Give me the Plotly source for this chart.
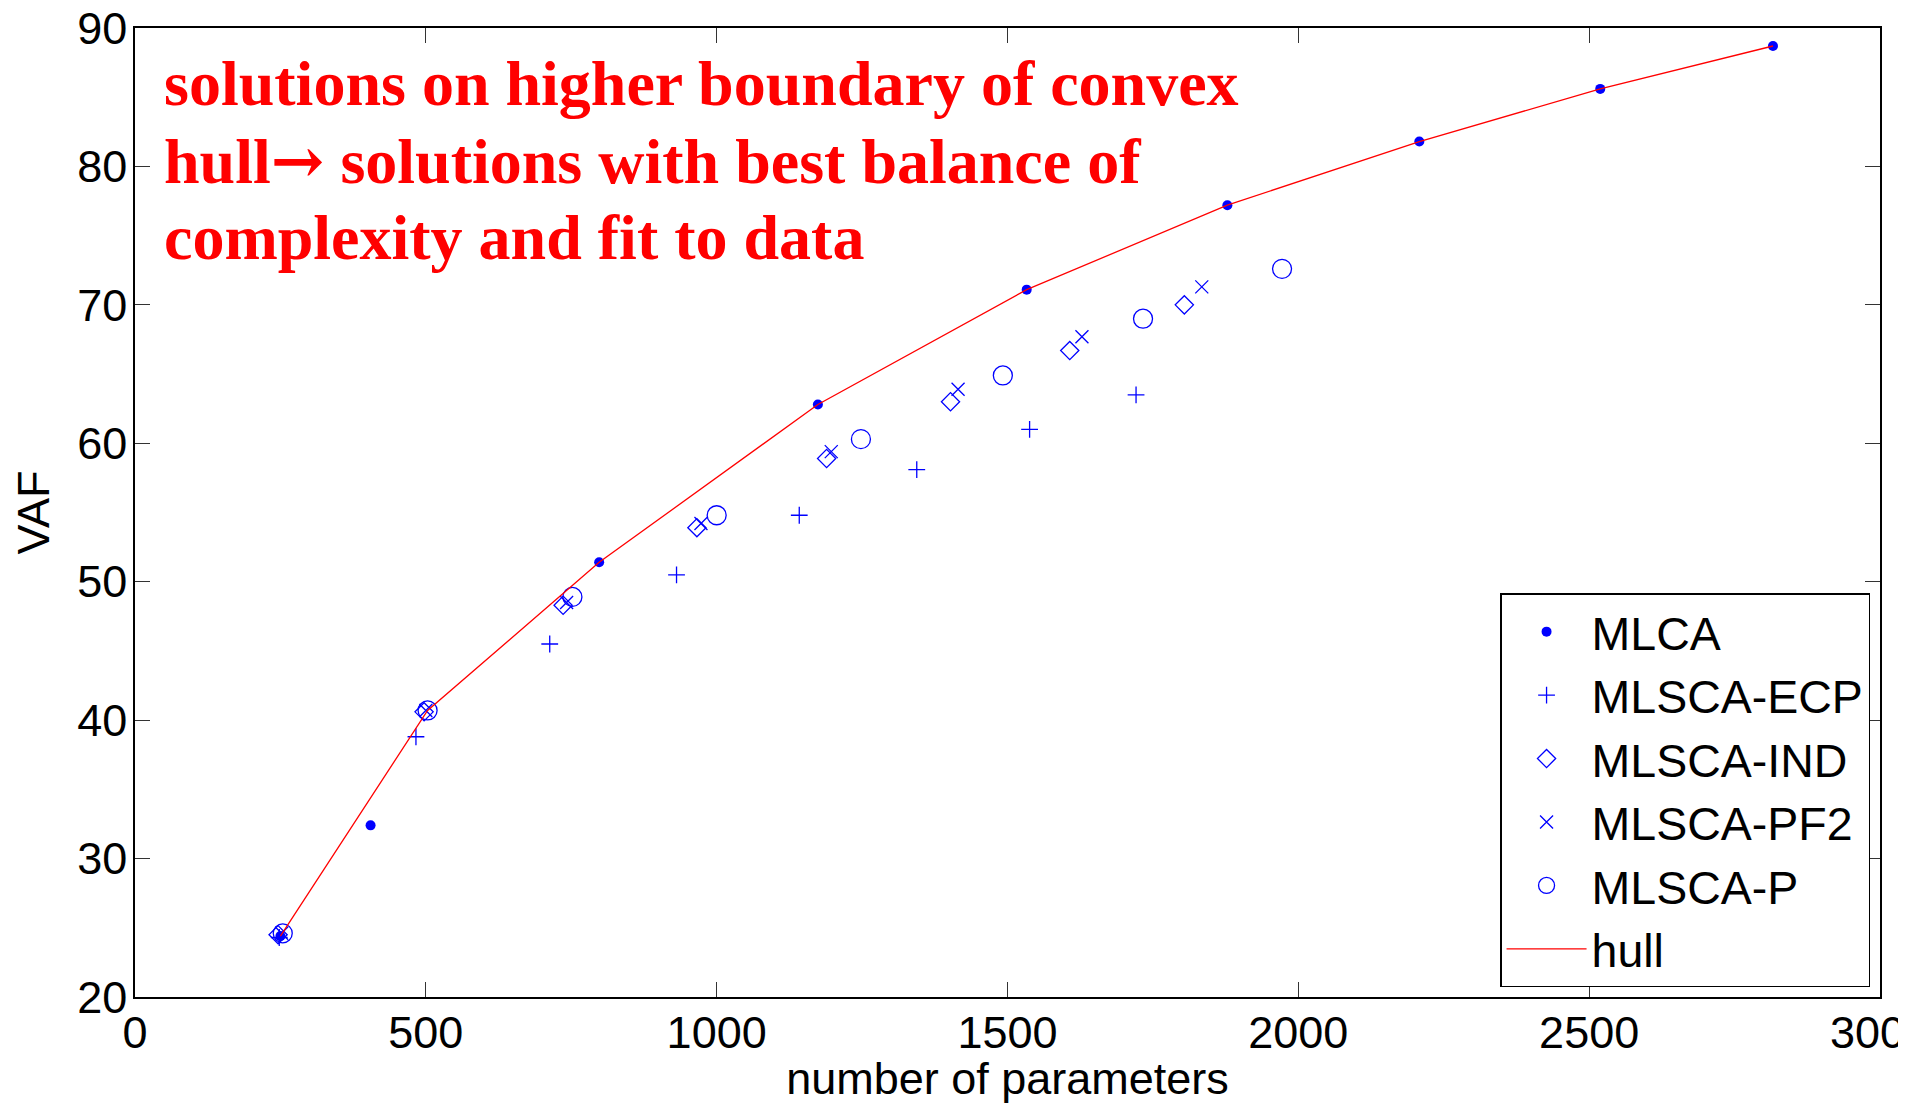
import plotly.graph_objects as go

# ---- data ----
mlca_x = [250, 405, 798, 1174, 1533, 1878, 2208, 2519, 2816]
mlca_y = [24.4, 32.4, 51.4, 62.8, 71.1, 77.2, 81.8, 85.6, 88.7]

ecp_x = [248, 483, 713, 931, 1142, 1344, 1538, 1721]
ecp_y = [24.3, 38.8, 45.5, 50.5, 54.8, 58.1, 61.0, 63.5]

ind_x = [246, 497, 736, 966, 1189, 1402, 1607, 1804]
ind_y = [24.5, 40.6, 48.3, 53.9, 58.9, 63.0, 66.7, 70.0]

pf2_x = [252, 500, 742, 973, 1197, 1415, 1628, 1834]
pf2_y = [24.6, 40.7, 48.5, 54.2, 59.4, 63.9, 67.7, 71.3]

p_x = [254, 503, 752, 1000, 1248, 1492, 1733, 1972]
p_y = [24.6, 40.7, 48.9, 54.8, 60.3, 64.9, 69.0, 72.6]

hull_x = [250, 503, 798, 1174, 1533, 1878, 2208, 2519, 2816]
hull_y = [24.4, 40.7, 51.4, 62.8, 71.1, 77.2, 81.8, 85.6, 88.7]

x_ticks = [0, 500, 1000, 1500, 2000, 2500, 3000]
y_ticks = [20, 30, 40, 50, 60, 70, 80, 90]

note_lines = [
    "solutions on higher boundary of convex",
    "hull<span style=\"font-family:'DejaVu Serif'\">\u2192</span> solutions with best balance of",
    "complexity and fit to data",
]

BLUE = "#0000ff"
RED = "#ff0000"
SANS = "Liberation Sans, Arial, sans-serif"

fig = go.Figure()
fig.add_trace(go.Scatter(x=mlca_x, y=mlca_y, mode="markers", name="MLCA",
                         marker=dict(symbol="circle", size=10, color=BLUE, line=dict(width=0))))
fig.add_trace(go.Scatter(x=ecp_x, y=ecp_y, mode="markers", name="MLSCA-ECP",
                         marker=dict(symbol="cross-thin-open", size=12, color=BLUE,
                                     line=dict(width=1.3, color=BLUE))))
fig.add_trace(go.Scatter(x=ind_x, y=ind_y, mode="markers", name="MLSCA-IND",
                         marker=dict(symbol="diamond-open", size=14, color=BLUE,
                                     line=dict(width=1.3, color=BLUE))))
fig.add_trace(go.Scatter(x=pf2_x, y=pf2_y, mode="markers", name="MLSCA-PF2",
                         marker=dict(symbol="x-thin-open", size=13, color=BLUE,
                                     line=dict(width=1.3, color=BLUE))))
fig.add_trace(go.Scatter(x=p_x, y=p_y, mode="markers", name="MLSCA-P",
                         marker=dict(symbol="circle-open", size=19, color=BLUE,
                                     line=dict(width=1.3, color=BLUE))))
fig.add_trace(go.Scatter(x=hull_x, y=hull_y, mode="lines", name="hull",
                         line=dict(color=RED, width=1.3)))

axis_common = dict(
    showline=True, linecolor="black", linewidth=1.5, mirror="ticks",
    ticks="inside", ticklen=15, tickwidth=1, tickcolor="#333333",
    showgrid=False, zeroline=False, automargin=False,
    ticklabeloverflow="allow",
    tickfont=dict(family=SANS, size=45, color="black"),
)

fig.update_xaxes(range=[0, 3000], tickvals=x_ticks, ticktext=[str(v) for v in x_ticks],
                 ticklabelstandoff=-5,
                 title=dict(text="number of parameters", standoff=5,
                            font=dict(family=SANS, size=45, color="black")),
                 **axis_common)
fig.update_yaxes(range=[20, 90], tickvals=y_ticks, ticktext=[str(v) for v in y_ticks],
                 ticklabelstandoff=-3,
                 title=dict(text="VAF", standoff=17,
                            font=dict(family=SANS, size=45, color="black")),
                 **axis_common)

note_y = [0.9425, 0.863, 0.7835]
annotations = []
for txt, yy in zip(note_lines, note_y):
    annotations.append(dict(
        text="<b>" + txt + "</b>", xref="paper", yref="paper", x=0.0155, y=yy,
        xanchor="left", yanchor="middle", showarrow=False,
        font=dict(family="Liberation Serif, Times New Roman, serif", size=64, color=RED),
    ))

fig.update_layout(
    width=1898, height=1096,
    margin=dict(l=127, r=26, t=20, b=107, pad=0),
    paper_bgcolor="white", plot_bgcolor="white",
    annotations=annotations,
    legend=dict(
        x=0.9943, y=0.0099, xanchor="right", yanchor="bottom",
        bordercolor="black", borderwidth=1.5, bgcolor="white",
        font=dict(family=SANS, size=46.5, color="black"),
        itemwidth=80, tracegroupgap=0,
    ),
    showlegend=True,
)

fig.write_html("out.html")
